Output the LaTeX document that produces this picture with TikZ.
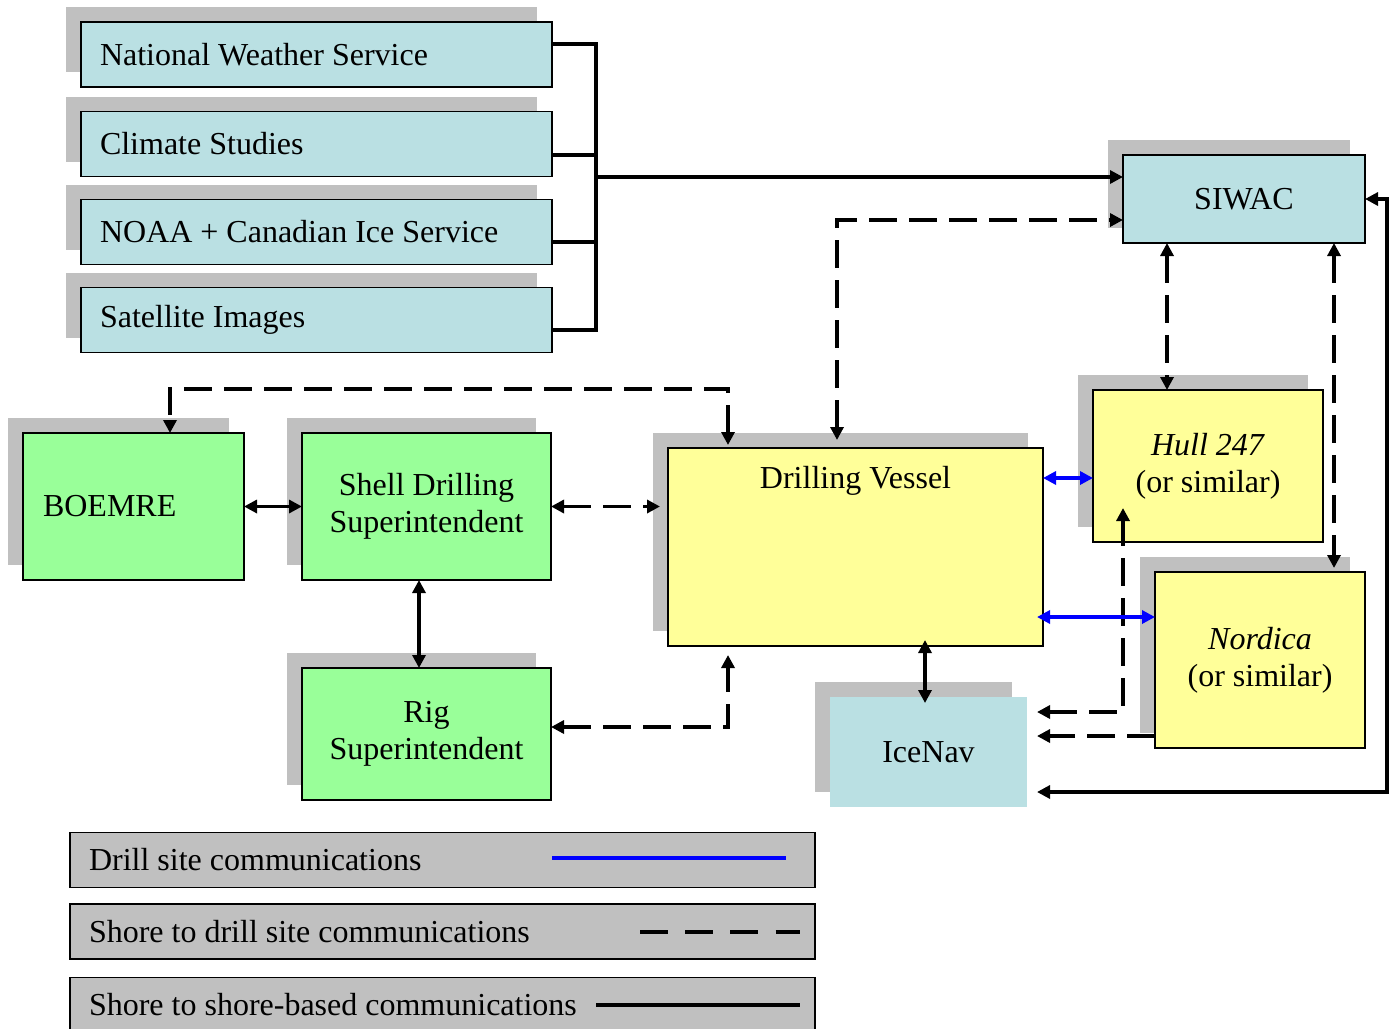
\documentclass[tikz,border=0pt]{standalone}
\usepackage{fontspec}
\setmainfont{Liberation Serif}
\usepackage{tikz}
\usetikzlibrary{arrows.meta,shadows,calc}

\definecolor{iceblue}{RGB}{186,224,227}
\definecolor{paleyellow}{RGB}{255,255,153}
\definecolor{palegreen}{RGB}{153,255,153}
\definecolor{shadowgray}{RGB}{192,192,192}

\begin{document}
\begin{tikzpicture}[x=0.5pt,y=-0.5pt,
	font=\fontsize{16}{18.5}\selectfont,
	>={Triangle[length=6.5pt,width=6.5pt]},
	box/.style={rectangle,outer sep=0pt,inner sep=3pt,draw=black,line width=0.8pt,align=center,
		general shadow={fill=shadowgray,shadow xshift=-7.5pt,shadow yshift=7.5pt}},
	source/.style={box,fill=iceblue,minimum width=235.5pt,minimum height=32.5pt,
		text width=216.5pt,inner xsep=9.5pt,align=justify},
	ice/.style={box,fill=iceblue},
	ship/.style={box,fill=paleyellow},
	crew/.style={box,fill=palegreen,minimum width=124.5pt,minimum height=73.5pt},
	legend/.style={rectangle,outer sep=0pt,draw=black,line width=0.8pt,fill=shadowgray,
		minimum width=372.5pt,minimum height=27.5pt,text width=353.5pt,inner xsep=9.5pt,align=justify},
	shorecom/.style={line width=1.6pt,draw=black},
	shoredrill/.style={line width=1.8pt,draw=black,dash pattern=on 14pt off 6pt},
	sitecom/.style={line width=1.8pt,draw=blue}]

	\useasboundingbox (0,0) rectangle (1395,1028);

	\node[source] (nws) at (316.5,54.5) {National Weather Service};
	\node[source] (climate) at (316.5,144) {Climate Studies};
	\node[source] (noaa) at (316.5,232) {NOAA + Canadian Ice Service};
	\node[source] (sat) at (316.5,320) {Satellite Images};

	\node[ice,minimum width=121pt,minimum height=44pt] (siwac) at (1244,199) {SIWAC};
	\node[ship,minimum width=115pt,minimum height=76pt] (hull) at (1208,466) {\textit{Hull 247}\\(or similar)};
	\node[ship,minimum width=105pt,minimum height=88pt] (nordica) at (1260,660) {\textit{Nordica}\\(or similar)};
	\node[ship,minimum width=187.5pt,minimum height=99pt,text height=17pt,text depth=76pt] (drill) at (855.5,547) {Drilling Vessel};
	\node[ice,draw=none,minimum width=98.5pt,minimum height=55pt] (icenav) at (928.5,752) {IceNav};

	\node[crew,minimum width=110.5pt,text width=90.5pt,inner xsep=10pt,align=justify] (boemre) at (133.5,506.5) {BOEMRE};
	\node[crew] (shell) at (426.5,506.5) {Shell Drilling\\Superintendent};
	\node[crew,minimum height=66pt] (rig) at (426.5,734) {Rig\\Superintendent};

	\node[legend] (legsite) at (442.5,860) {Drill site communications};
	\node[legend] (legdrill) at (442.5,931.5) {Shore to drill site communications};
	\node[legend] (legshore) at (442.5,1005) {Shore to shore-based communications};

	\coordinate (hub) at (596,177);

	\draw[shorecom] ($(nws.east)+(0,-10.5)$) -- ++(44,0) |- ($(sat.east)+(0,10)$);
	\draw[shorecom] ($(climate.east)+(0,11)$) -- ++(44,0);
	\draw[shorecom] ($(noaa.east)+(0,10)$) -- ++(44,0);
	\draw[shorecom,->] (hub) -- (hub -| siwac.west);

	\draw[shoredrill,<->] ($(drill.north)+(-18.5,-8)$) |- ($(siwac.west)+(0,21)$);
	\draw[shoredrill,<->] ($(siwac.south)+(-77,0)$) -- ($(hull.north)+(-41,0)$);
	\draw[shoredrill,<->] ($(siwac.south)+(90,0)$) -- ($(nordica.north)+(74,-4)$);
	\draw[shorecom,<->] ($(icenav.east)+(10,40)$) -| ($(siwac.east)+(22,0)$) -- (siwac.east);

	\draw[shoredrill,<->] ($(drill.north)+(-127.5,-3)$) -- ++(0,-56) -| ($(boemre.north)+(36.5,0)$);
	\draw[shoredrill,<->,shorten >=4pt] (shell.east) -- (shell.east -| drill.west);
	\draw[shoredrill,<->] ($(rig.east)+(0,-7)$) -| ($(drill.south)+(-127.5,9)$);
	\draw[shorecom,<->] (boemre.east) -- (shell.west);
	\draw[shorecom,<->] ($(shell.south)+(-7.5,0)$) -- ($(rig.north)+(-7.5,0)$);
	\draw[shorecom,<->] ($(drill.south)+(69.5,-6)$) -- ($(icenav.north)+(-3.5,6)$);

	\draw[shoredrill,<->] ($(icenav.east)+(10,-40)$) -| ($(hull.south)+(-85,-34)$);
	\draw[shoredrill,->] ($(nordica.west)+(0,76)$) -- ($(icenav.east)+(10,-16)$);

	\draw[sitecom,<->] ($(drill.east)+(0,-69)$) -- ($(hull.west)+(0,12)$);
	\draw[sitecom,<->] ($(drill.east)+(-6,70)$) -- ($(nordica.west)+(0,-43)$);

	\draw[sitecom] (552,858) -- (786,858);
	\draw[shoredrill,dash pattern=on 14pt off 8.6pt] (640,932) -- (800,932);
	\draw[shorecom] (596,1005) -- (800,1005);

\end{tikzpicture}
\end{document}
